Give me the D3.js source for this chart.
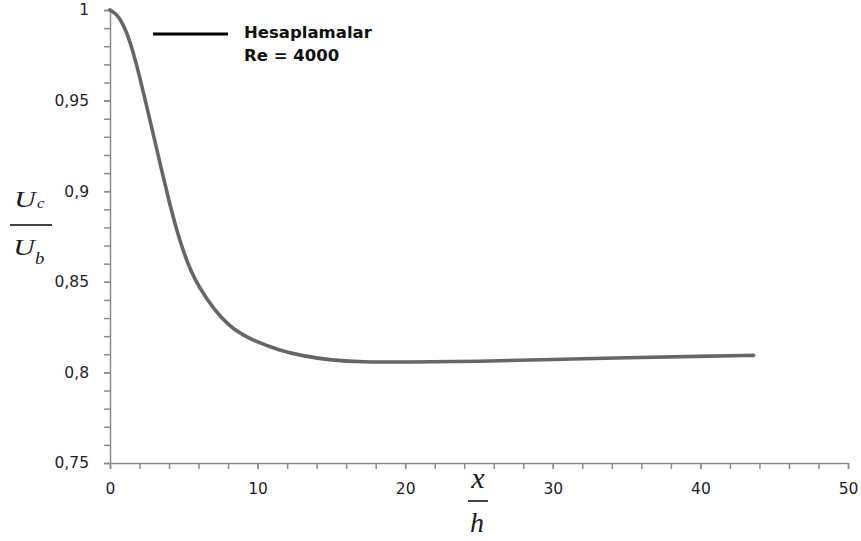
<!DOCTYPE html>
<html>
<head>
<meta charset="utf-8">
<script src="https://cdn.jsdelivr.net/npm/d3@7/dist/d3.min.js"></script>
<style>
  html, body { margin: 0; padding: 0; background: #fff; }
  svg { display: block; }
  .tick text { font-family: "DejaVu Sans", Verdana, sans-serif; font-size: 15.5px; fill: #1e1e28; }
  .axis path, .axis line { stroke: #8c8c8c; stroke-width: 1.5; }
</style>
</head>
<body>
<svg id="chart" width="861" height="541"></svg>
<script>
// Centreline velocity ratio Uc/Ub along the channel, Re = 4000
const xh = [0, 0.5, 1.0, 1.5, 2.0, 2.5, 3.0, 3.5, 4.0, 4.5, 5.0, 5.5, 6.0, 7.0, 8.3, 10.0, 11.5, 13.0, 15.0, 17.0, 20.0, 25.0, 30.0, 35.0, 40.0, 43.6];
const ucub = [1.0, 0.9975, 0.9905, 0.979, 0.9635, 0.9465, 0.929, 0.9115, 0.8945, 0.879, 0.866, 0.8555, 0.8475, 0.835, 0.8235, 0.8165, 0.8122, 0.8092, 0.8066, 0.8058, 0.8056, 0.8061, 0.8071, 0.8081, 0.8089, 0.8094];

const xMajorTicks = [0, 10, 20, 30, 40, 50];
const xMinorTicks = d3.range(0, 50.001, 2);
const yMajorTicks = [0.75, 0.8, 0.85, 0.9, 0.95, 1];
const yMinorTicks = d3.range(75, 100.001, 1).map(v => v / 100);

const seriesName = "Hesaplamalar";
const seriesNote = "Re = 4000";

const svg = d3.select("#chart");
const x = d3.scaleLinear().domain([0, 50]).range([110, 848]);
const y = d3.scaleLinear().domain([0.75, 1]).range([463, 10]);

const comma = d => String(d).replace(".", ",");

// minor ticks (no labels)
svg.append("g").attr("class", "axis")
  .attr("transform", `translate(0,${y(0.75)})`)
  .call(d3.axisBottom(x).tickValues(xMinorTicks).tickSize(6).tickFormat(""))
  .call(g => g.select(".domain").remove());
svg.append("g").attr("class", "axis")
  .attr("transform", `translate(${x(0)},0)`)
  .call(d3.axisLeft(y).tickValues(yMinorTicks).tickSize(6).tickFormat(""))
  .call(g => g.select(".domain").remove());

// major axes with labels
svg.append("g").attr("class", "axis")
  .attr("transform", `translate(0,${y(0.75)})`)
  .call(d3.axisBottom(x).tickValues(xMajorTicks).tickSize(6).tickSizeOuter(0).tickPadding(14).tickFormat(comma));
svg.append("g").attr("class", "axis")
  .attr("transform", `translate(${x(0)},0)`)
  .call(d3.axisLeft(y).tickValues(yMajorTicks).tickSize(6).tickSizeOuter(0).tickPadding(15).tickFormat(comma));

// the curve
const line = d3.line()
  .x((d, i) => x(xh[i]))
  .y(d => y(d))
  .curve(d3.curveBasis);
svg.append("path")
  .datum(ucub)
  .attr("d", line)
  .attr("fill", "none")
  .attr("stroke", "#666666")
  .attr("stroke-width", 3.6)
  .attr("stroke-linecap", "round");

// legend
svg.append("line")
  .attr("x1", 153).attr("x2", 228).attr("y1", 34).attr("y2", 34)
  .attr("stroke", "#000").attr("stroke-width", 3);
const leg = svg.append("text")
  .attr("font-family", "'DejaVu Sans', sans-serif")
  .attr("font-weight", "bold")
  .attr("font-size", 16.5)
  .attr("fill", "#101010");
leg.append("tspan").attr("x", 244).attr("y", 38).text(seriesName);
leg.append("tspan").attr("x", 244).attr("y", 61).text(seriesNote);

// axis titles as fractions
const serif = "'Liberation Serif', 'DejaVu Serif', serif";
const mathG = svg.append("g")
  .attr("font-family", serif).attr("font-style", "italic").attr("fill", "#1a1a24");

function glyph(txt, gx, gy, size, sx, anchor) {
  mathG.append("text")
    .attr("transform", `translate(${gx},${gy}) scale(${sx},1)`)
    .attr("text-anchor", anchor)
    .attr("font-size", size)
    .text(txt);
}
function bar(x1, x2, by) {
  mathG.append("line").attr("x1", x1).attr("x2", x2).attr("y1", by).attr("y2", by)
    .attr("stroke", "#444").attr("stroke-width", 2);
}

// Uc / Ub
glyph("U", 25, 207, 23, 1.3, "middle");
glyph("c", 37, 208, 15, 1.1, "start");
bar(10, 52, 225);
glyph("U", 24, 255, 23, 1.3, "middle");
glyph("b", 35, 264, 17, 1.1, "start");

// x / h
glyph("x", 478, 488, 30, 1, "middle");
bar(468, 488, 501);
glyph("h", 477, 532, 28, 1, "middle");
</script>
</body>
</html>
